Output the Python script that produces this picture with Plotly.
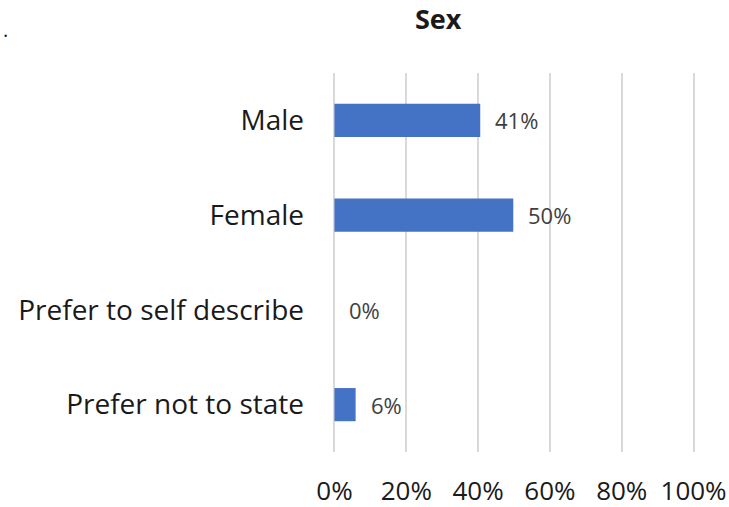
import plotly.graph_objects as go

categories = ['Male', 'Female', 'Prefer to self describe', 'Prefer not to state']
shares = [0.406, 0.498, 0.0, 0.059]
x_ticks = [0, 0.2, 0.4, 0.6, 0.8, 1.0]
x_tick_labels = ['0%', '20%', '40%', '60%', '80%', '100%']

FONT = 'Open Sans, Noto Sans, sans-serif'
# 0% sits at x=334px, 100% at 694px; plot box top 73px, height 379px
PAD = 0.004                    # small range pad so edge gridlines are drawn
X0, SCALE, T, H = 334, 360, 73, 379
L = X0 - PAD * SCALE
W = SCALE * (1 + 2 * PAD)


def px_to_paper(x, y):
    return (x - L) / W, 1 - (y - T) / H


fig = go.Figure(go.Bar(
    x=shares,
    y=categories,
    orientation='h',
    width=0.35,
    marker=dict(color='#4472C4', line=dict(width=0)),
    hoverinfo='skip',
))

# data labels sit a bit off the bar end, like the Excel original
for cat, val in zip(categories, shares):
    fig.add_annotation(
        x=val, y=cat, text=f"{val:.0%}", showarrow=False,
        xanchor='left', xshift=13, font=dict(size=22, color='#404040', family=FONT),
    )

tx, ty = px_to_paper(438, 19)
fig.add_annotation(
    x=tx, y=ty, xref='paper', yref='paper', text='<b>Sex</b>', showarrow=False,
    xanchor='center', yanchor='middle',
    font=dict(size=27, color='#1a1a1a', family=FONT),
)
dx, dy = px_to_paper(0, 14)
fig.add_annotation(
    x=dx, y=dy, xref='paper', yref='paper', text='.', showarrow=False,
    xanchor='left', yanchor='top', font=dict(size=20, color='#1a1a1a', family=FONT),
)

fig.update_layout(
    width=729, height=507,
    margin=dict(l=L, r=729 - L - W, t=T, b=507 - T - H),
    paper_bgcolor='white', plot_bgcolor='white',
    showlegend=False,
    font=dict(family=FONT, color='#1a1a1a'),
)
fig.update_xaxes(
    range=[-PAD, 1 + PAD], tickvals=x_ticks, ticktext=x_tick_labels,
    showgrid=True, gridcolor='#d9d9d9', gridwidth=2, zeroline=False,
    showline=False, tickfont=dict(size=26), ticklabelstandoff=21, automargin=False,
)
fig.update_yaxes(
    autorange='reversed', showgrid=False, zeroline=False, showline=False,
    tickfont=dict(size=28), ticklabelstandoff=28, automargin=False,
)

# drop the browser's default 8px body margin so the figure sits at the page corner
fig.write_html(
    'out.html',
    config={'displayModeBar': False},
    post_script="document.body.style.margin='0';",
)
